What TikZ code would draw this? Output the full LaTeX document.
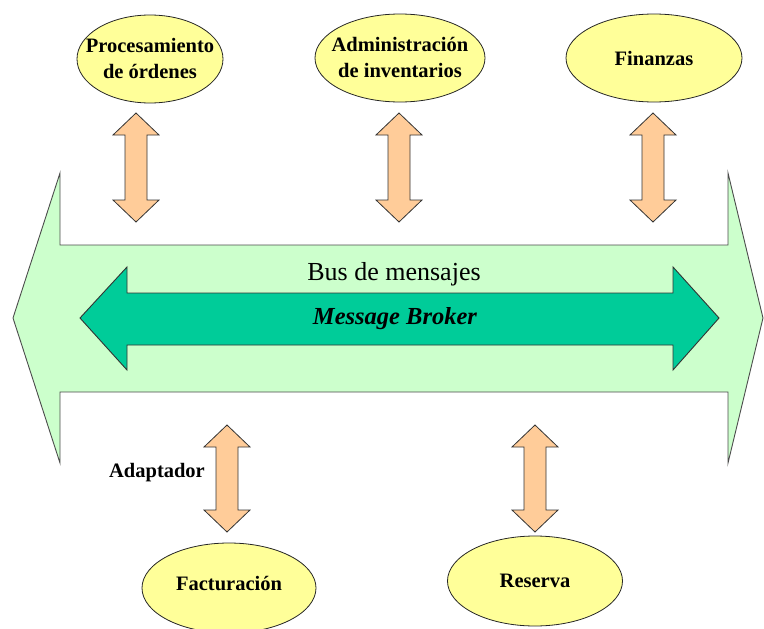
\documentclass[tikz,border=0pt]{standalone}
\usepackage{fontspec}
\usetikzlibrary{shapes.geometric}
\setmainfont{Liberation Serif}
\begin{document}
\begin{tikzpicture}[x=1pt,y=-1pt,
  module/.style={ellipse, draw=black!85, line width=0.8pt, fill=modfill,
    minimum width=#1, minimum height=88pt, inner sep=0pt},
  module/.default=172pt,
  modtext/.style={inner sep=0pt, align=center,
    font=\bfseries\fontsize{20.5}{26}\selectfont},
  busshape/.style={draw=black!70, line width=0.9pt, fill=busfill},
  brokershape/.style={draw=black!80, line width=0.9pt, fill=brokerfill},
  link/.style={draw=black!80, line width=0.8pt, fill=linkfill},
  lbl/.style={inner sep=0pt, anchor=base}
]
\definecolor{modfill}{RGB}{255,255,153}
\definecolor{busfill}{RGB}{204,255,204}
\definecolor{brokerfill}{RGB}{0,204,153}
\definecolor{linkfill}{RGB}{255,204,153}
\useasboundingbox (0,0) rectangle (764,629);

% vertical double block arrow: centre x, top y, bottom y
\newcommand\vlink[3]{%
  \path[link] (#1,#2) -- ++(23,22) -- ++(-12,0) -- (#1+11,#3-22) -- ++(12,0)
    -- (#1,#3) -- ++(-23,-22) -- ++(12,0) -- (#1-11,#2+22) -- ++(-12,0) -- cycle;}

% message bus
\path[busshape] (13,318) -- (60,173) -- (60,245) -- (728,245) -- (728,173)
  -- (763,318) -- (728,463) -- (728,392) -- (60,392) -- (60,463) -- cycle;
% message broker
\path[brokershape] (80,318) -- (127,267) -- (127,293) -- (673,293) -- (673,267)
  -- (719,318) -- (673,370) -- (673,345) -- (127,345) -- (127,370) -- cycle;

\node[lbl, font=\fontsize{26}{28}\selectfont] (bus) at (394,280) {Bus de mensajes};
\node[lbl, font=\bfseries\itshape\fontsize{24.5}{26}\selectfont] (broker) at (395,324) {Message Broker};

% applications
\node[module=146pt] (proc) at (150,59) {};
\node[module=170pt] (inv) at (400,58) {};
\node[module=176pt] (fin) at (654,58) {};
\node[module=174pt, minimum height=90pt] (fact) at (229,588) {};
\node[module=175pt, minimum height=90pt] (res) at (535,581) {};

\node[modtext] (proct) at ([yshift=1pt]proc) {Procesamiento\\de órdenes};
\node[modtext] (invt) at ([yshift=1pt]inv) {Administración\\de inventarios};
\node[modtext] (fint) at (fin) {Finanzas};
\node[modtext] (factt) at ([yshift=5pt]fact) {Facturación};
\node[modtext] (rest) at (res) {Reserva};

% adapters between applications and bus
\vlink{136}{113}{222}
\vlink{399}{113}{222}
\vlink{653}{113}{222}
\vlink{227}{425}{532}
\vlink{535}{425}{532}

\node[lbl, font=\bfseries\fontsize{20.5}{24}\selectfont] (adapt) at (157,477) {Adaptador};
\end{tikzpicture}
\end{document}
